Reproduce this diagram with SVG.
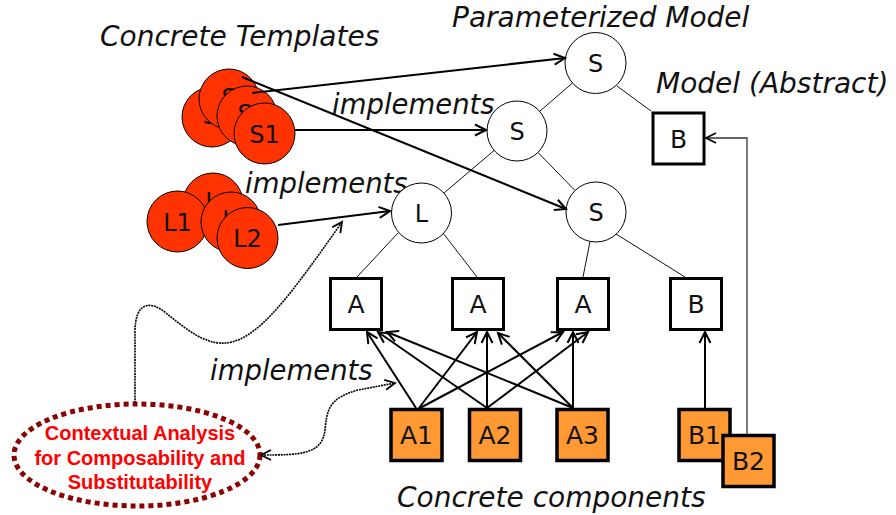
<svg xmlns="http://www.w3.org/2000/svg" width="896" height="515" viewBox="0 0 896 515">
<style>
.lbl{font-family:"DejaVu Sans",Verdana,sans-serif;font-style:italic;font-size:28px;fill:#111}
.impl{font-family:"DejaVu Sans",Verdana,sans-serif;font-style:italic;font-size:27.5px;fill:#111}
.nt{font-family:"DejaVu Sans",Verdana,sans-serif;font-size:24px;fill:#111;text-anchor:middle}
.bt{font-family:"DejaVu Sans",Verdana,sans-serif;font-size:25px;fill:#111;text-anchor:middle}
.wc{fill:#fff;stroke:#000;stroke-width:1}
.rc{fill:#FF3300;stroke:#000;stroke-width:1}
.wb{fill:#fff;stroke:#000;stroke-width:3}
.ob{fill:#FF9933;stroke:#000;stroke-width:3.5}
.edge{stroke:#111;stroke-width:1;fill:none}
.arr{stroke:#000;stroke-width:2;fill:none;marker-end:url(#ah)}
.thin{stroke:#333;stroke-width:1.3;fill:none}
.dot{stroke:#000;stroke-width:1.6;fill:none;stroke-dasharray:2 0.8}
.red{font-family:"Liberation Sans",Arial,sans-serif;font-weight:bold;font-size:20px;fill:#FF0000;text-anchor:middle}
</style>
<defs>
<marker id="ah" markerUnits="userSpaceOnUse" markerWidth="16" markerHeight="16" viewBox="-13 -8 16 16" refX="0" refY="0" orient="auto">
<path d="M-11,-5.5 L0,0 L-11,5.5" fill="none" stroke="#000" stroke-width="2"/>
</marker>
<marker id="ahs" markerUnits="userSpaceOnUse" markerWidth="16" markerHeight="16" viewBox="-13 -8 16 16" refX="0" refY="0" orient="auto-start-reverse">
<path d="M-10,-5 L0,0 L-10,5" fill="none" stroke="#000" stroke-width="1.8"/>
</marker>
</defs>
<rect width="896" height="515" fill="#fff"/>

<text class="lbl" x="100" y="46">Concrete Templates</text>
<text class="lbl" x="452" y="27">Parameterized Model</text>
<text class="lbl" x="656" y="93">Model (Abstract)</text>
<text class="lbl" x="397" y="507">Concrete components</text>
<text class="impl" x="332" y="114">implements</text>
<text class="impl" x="245" y="193">implements</text>
<text class="impl" x="210" y="380">implements</text>

<g id="S-templates">
<circle class="rc" cx="212" cy="117" r="30"/><text class="nt" x="210" y="124">S</text>
<circle class="rc" cx="229" cy="99" r="30"/><text class="nt" x="229" y="106">S</text>
<circle class="rc" cx="247" cy="116" r="30"/><text class="nt" x="245" y="122">S</text>
<circle class="rc" cx="264.5" cy="133.5" r="30.5"/><text class="nt" x="264.5" y="142.5">S1</text>
</g>
<g id="L-templates">
<circle class="rc" cx="213" cy="203" r="30"/><text class="nt" x="212" y="210">L</text>
<circle class="rc" cx="177.5" cy="221.5" r="30.5"/><text class="nt" x="177.5" y="230.5">L1</text>
<circle class="rc" cx="231" cy="222" r="30"/><text class="nt" x="229" y="228">L</text>
<circle class="rc" cx="247.5" cy="238" r="30.5"/><text class="nt" x="247.5" y="247">L2</text>
</g>

<g id="S-top"><circle class="wc" cx="595.5" cy="63" r="30.5"/><text class="nt" x="595.5" y="72">S</text></g>
<g id="S-mid"><circle class="wc" cx="517" cy="131" r="30"/><text class="nt" x="517" y="140">S</text></g>
<g id="S-low"><circle class="wc" cx="596" cy="212" r="30"/><text class="nt" x="596" y="221">S</text></g>
<g id="L-node"><circle class="wc" cx="421.5" cy="213" r="30"/><text class="nt" x="421.5" y="222">L</text></g>
<g id="B-abstract"><rect class="wb" x="653" y="113" width="51" height="51"/><text class="bt" x="678.5" y="148">B</text></g>
<g id="A-box1"><rect class="wb" x="330.5" y="278.5" width="51" height="51"/><text class="bt" x="356" y="313">A</text></g>
<g id="A-box2"><rect class="wb" x="452.5" y="278.5" width="51" height="51"/><text class="bt" x="478" y="313">A</text></g>
<g id="A-box3"><rect class="wb" x="557.5" y="278.5" width="51" height="51"/><text class="bt" x="583" y="313">A</text></g>
<g id="B-box"><rect class="wb" x="670.5" y="278.5" width="51" height="51"/><text class="bt" x="696" y="313">B</text></g>
<g id="A1"><rect class="ob" x="391" y="409.5" width="51" height="51"/><text class="bt" x="416.5" y="444">A1</text></g>
<g id="A2"><rect class="ob" x="469.5" y="409.5" width="51" height="51"/><text class="bt" x="495" y="444">A2</text></g>
<g id="A3"><rect class="ob" x="557" y="409.5" width="51" height="51"/><text class="bt" x="582.5" y="444">A3</text></g>
<g id="B1"><rect class="ob" x="679" y="409.5" width="51" height="51"/><text class="bt" x="704.5" y="444">B1</text></g>
<g id="B2"><rect class="ob" x="723" y="435.5" width="51" height="51"/><text class="bt" x="748.5" y="470">B2</text></g>

<g id="analysis">
<ellipse cx="137" cy="455" rx="123" ry="51" fill="none" stroke="#8B0000" stroke-width="5" stroke-dasharray="5 4"/>
<text class="red" x="140" y="440">Contextual Analysis</text>
<text class="red" x="140" y="465">for Composability and</text>
<text class="red" x="140" y="489">Substitutability</text>
</g>

<g id="connectors">
<line class="edge" x1="572.5" y1="83" x2="539.5" y2="111.5"/>
<line class="edge" x1="617" y1="86" x2="651" y2="111"/>
<line class="edge" x1="494" y1="150.5" x2="444" y2="193"/>
<line class="edge" x1="538" y1="152.5" x2="575" y2="190.5"/>
<line class="edge" x1="398" y1="233" x2="357" y2="277"/>
<line class="edge" x1="443" y1="233" x2="477" y2="277"/>
<line class="edge" x1="590" y1="241.5" x2="583" y2="277"/>
<line class="edge" x1="616" y1="234" x2="685" y2="277"/>

<line class="arr" x1="252" y1="93" x2="565" y2="58"/>
<line class="arr" x1="242" y1="77" x2="566" y2="209"/>
<line class="arr" x1="295" y1="130" x2="486" y2="130"/>
<line class="arr" x1="278" y1="225" x2="390" y2="211"/>

<line class="arr" x1="416" y1="408" x2="367" y2="332"/>
<line class="arr" x1="419" y1="408" x2="477" y2="332"/>
<line class="arr" x1="420" y1="408" x2="563" y2="332"/>
<line class="arr" x1="487" y1="408" x2="378" y2="332"/>
<line class="arr" x1="487" y1="408" x2="487" y2="332"/>
<line class="arr" x1="487" y1="408" x2="588" y2="332"/>
<line class="arr" x1="573" y1="408" x2="387" y2="332"/>
<line class="arr" x1="573" y1="408" x2="498" y2="333"/>
<line class="arr" x1="573" y1="408" x2="573" y2="332"/>
<line class="arr" x1="705" y1="408" x2="705" y2="332"/>

<path class="thin" d="M747,434 L747,138 L706,138" marker-end="url(#ahs)"/>

<path class="dot" d="M135,403 L135,332 C135,302 150,300 166,313 C186,329 205,345 226,343 C258,340 290,296 342,222" marker-end="url(#ahs)"/>
<path class="dot" d="M261,455 C300,455 322,455 325,430 C327,408 330,398 358,390 L395,383" marker-start="url(#ahs)" marker-end="url(#ahs)"/>
</g>
</svg>
